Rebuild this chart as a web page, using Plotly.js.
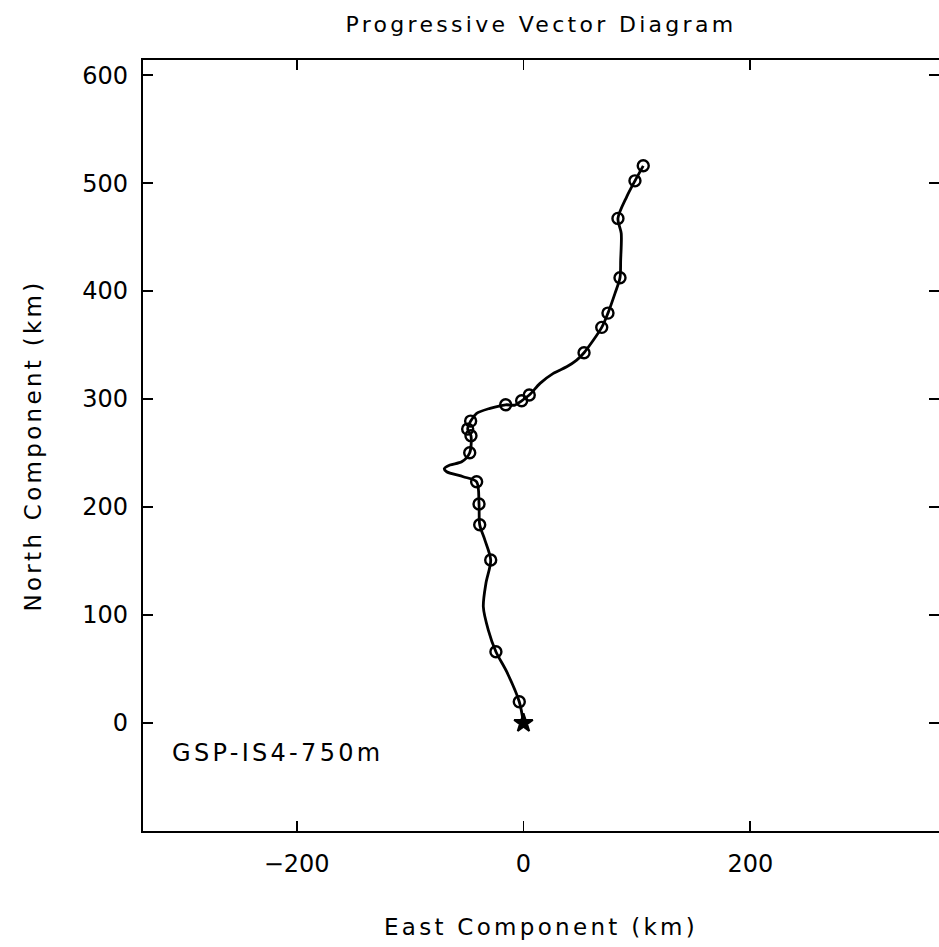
<!DOCTYPE html>
<html>
<head>
<meta charset="utf-8">
<script src="https://cdn.plot.ly/plotly-3.0.1.min.js"></script>
<style>
  html, body { margin: 0; padding: 0; background: #fff; }
  #chart { width: 939px; height: 947px; }
  .gtitle, .xtitle, .ytitle, .annotation-text { letter-spacing: 3.3px; }
</style>
</head>
<body>
<div id="chart"></div>
<script>
// Smooth track (km), in time order, from the start point
const pathEast  = [0, -3.7, -14.8, -24.3, -31.0, -35.4, -33.1, -28.9, -34.0, -38.6, -39.2, -41.3,
                   -53.1, -67.7, -69.8, -64.8, -54.5, -47.4, -46.3, -49.2, -46.6, -41.3, -29.5,
                   -15.7, -7.5, -1.6, 5.1, 14.6, 26.3, 38.1, 46.9, 53.4, 69.0, 74.5, 80.7, 85.1,
                   85.7, 86.2, 83.3, 91.0, 98.3, 105.6];
const pathNorth = [0, 19.7, 47.5, 66.0, 86.1, 107.7, 129.4, 150.9, 169.4, 183.6, 202.8, 223.4,
                   228.1, 232.7, 235.5, 238.9, 241.9, 250.3, 266.0, 272.2, 279.6, 286.8, 291.4,
                   294.7, 294.4, 298.4, 303.7, 314.5, 323.8, 329.9, 336.1, 342.9, 366.4, 379.6, 397.9, 412.3,
                   428.7, 453.4, 467.3, 487.3, 502.1, 516.0];
// Marked (circled) positions along the track
const markEast  = [-3.7, -24.3, -28.9, -38.6, -39.2, -41.3, -47.4, -46.3, -49.2, -46.6,
                   -15.7, -1.6, 5.1, 53.4, 69.0, 74.5, 85.1, 83.3, 98.3, 105.6];
const markNorth = [19.7, 66.0, 150.9, 183.6, 202.8, 223.4, 250.3, 266.0, 272.2, 279.6,
                   294.7, 298.4, 303.7, 342.9, 366.4, 379.6, 412.3, 467.3, 502.1, 516.0];
// Start point
const startEast  = [0];
const startNorth = [0];

const xTicks = [-200, 0, 200];
const yTicks = [0, 100, 200, 300, 400, 500, 600];
const titleText = 'Progressive Vector Diagram';
const xTitleText = 'East Component (km)';
const yTitleText = 'North Component (km)';
const labelText = 'GSP-IS4-750m';

const traces = [
  {
    x: pathEast, y: pathNorth, type: 'scatter', mode: 'lines',
    line: { color: '#000', width: 2.8, shape: 'spline', smoothing: 0.8 },
    hoverinfo: 'skip', showlegend: false
  },
  {
    x: markEast, y: markNorth, type: 'scatter', mode: 'markers',
    marker: { symbol: 'circle-open', size: 11, color: '#000', line: { color: '#000', width: 2.4 } },
    showlegend: false
  },
  {
    x: startEast, y: startNorth, type: 'scatter', mode: 'markers',
    marker: { symbol: 'star', size: 14, color: '#000', line: { color: '#000', width: 2 } },
    showlegend: false
  }
];

const axisFont = { family: 'DejaVu Sans, sans-serif', size: 24, color: '#000' };
const titleFont = { family: 'DejaVu Sans, sans-serif', size: 23, color: '#000' };

const layout = {
  width: 939, height: 947,
  margin: { l: 143, r: 0, t: 60, b: 116 },
  paper_bgcolor: '#fff', plot_bgcolor: '#fff',
  title: {
    text: titleText, font: { family: 'DejaVu Sans, sans-serif', size: 22, color: '#000' },
    x: 0.5, xref: 'paper', y: 1 - 24 / 947, yref: 'container', yanchor: 'middle'
  },
  xaxis: {
    range: [-335.5, 366.4], tickmode: 'array', tickvals: xTicks,
    ticks: 'inside', ticklen: 10, tickwidth: 1.8, tickcolor: '#000',
    showline: true, linecolor: '#000', linewidth: 2.2, mirror: 'ticks',
    showgrid: false, zeroline: false, tickfont: axisFont, ticklabelstandoff: 10,
    title: { text: xTitleText, font: titleFont, standoff: 42 }
  },
  yaxis: {
    range: [-100, 614], tickmode: 'array', tickvals: yTicks,
    ticks: 'inside', ticklen: 10, tickwidth: 1.8, tickcolor: '#000',
    showline: true, linecolor: '#000', linewidth: 2.2, mirror: 'ticks',
    showgrid: false, zeroline: false, tickfont: axisFont, ticklabelstandoff: 8,
    title: { text: yTitleText, font: titleFont, standoff: 34 }
  },
  annotations: [{
    text: labelText, xref: 'paper', yref: 'paper',
    x: (170 - 143) / 796, y: (831 - 753) / 771, xanchor: 'left', yanchor: 'middle',
    showarrow: false, font: { family: 'DejaVu Sans, sans-serif', size: 24, color: '#000' }
  }]
};

Plotly.newPlot('chart', traces, layout, { displayModeBar: false, staticPlot: true });
</script>
</body>
</html>
